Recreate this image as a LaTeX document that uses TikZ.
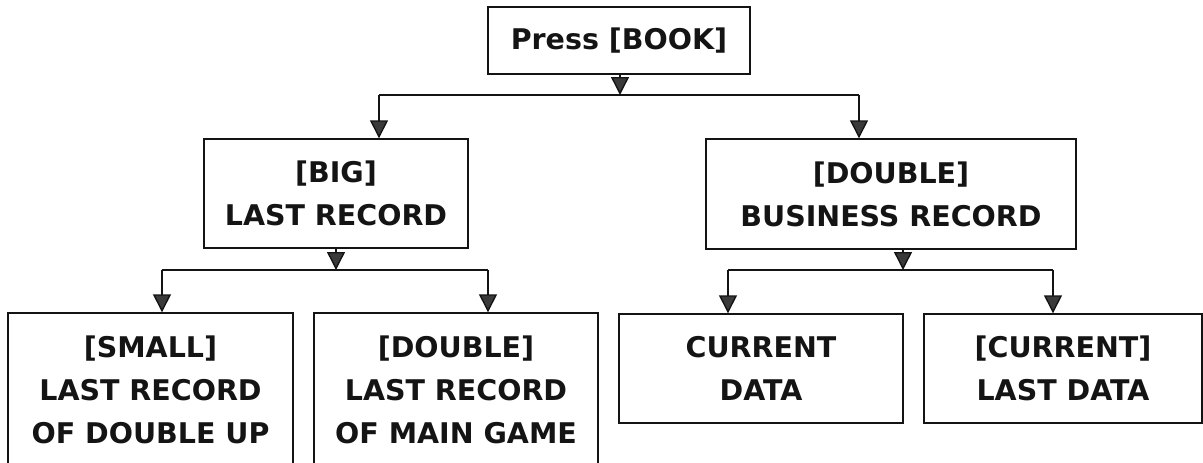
\documentclass[tikz,border=0pt]{standalone}
\usepackage{fontspec}
\setmainfont{DejaVu Sans}
\usetikzlibrary{arrows.meta}
\definecolor{ink}{HTML}{141414}
\definecolor{tipfill}{HTML}{3A3A3A}
\tikzset{
  box/.style={draw=ink, line width=1.4pt, rectangle, inner sep=0pt, align=center,
    text=ink, font=\fontsize{28.5}{43}\selectfont\bfseries},
  link/.style={draw=ink, line width=1.4pt},
  arr/.style={link, -{Triangle[width=18pt,length=18pt,fill=tipfill]}},
}
\begin{document}
\begin{tikzpicture}[x=1pt,y=-1pt]
\useasboundingbox (0,0) rectangle (1203,463);
\clip (0,0) rectangle (1203,463);
\fill[white] (0,0) rectangle (1203,463);
% boxes
\node[box, minimum width=262pt, minimum height=67pt] (top) at (619,40.5) {Press [BOOK]};
\node[box, minimum width=264pt, minimum height=109pt] (big) at (336,193.5) {[BIG]\\LAST RECORD};
\node[box, minimum width=370pt, minimum height=110pt] (dbl) at (891,194) {[DOUBLE]\\BUSINESS RECORD};
\node[box, minimum width=285pt, minimum height=154pt] (s1) at (150.5,390) {[SMALL]\\LAST RECORD\\OF DOUBLE UP};
\node[box, minimum width=284pt, minimum height=154pt] (s2) at (456,390) {[DOUBLE]\\LAST RECORD\\OF MAIN GAME};
\node[box, minimum width=284pt, minimum height=109pt] (c1) at (761,368.5) {CURRENT\\DATA};
\node[box, minimum width=278pt, minimum height=109pt] (c2) at (1063,368.5) {[CURRENT]\\LAST DATA};
% junctions
\coordinate (j0) at (620,95);
\coordinate (j0l) at (379,95);
\coordinate (j0r) at (859,95);
\coordinate (j1) at (336,270);
\coordinate (j1l) at (162,270);
\coordinate (j1r) at (488,270);
\coordinate (j2) at (903,270);
\coordinate (j2l) at (728,270);
\coordinate (j2r) at (1053,270);
% connectors
\draw[arr] (j0 |- top.south) -- (j0);
\draw[link] (j0l) -- (j0r);
\draw[arr] (j0l) -- (j0l |- big.north);
\draw[arr] (j0r) -- (j0r |- dbl.north);
\draw[arr] (j1 |- big.south) -- (j1);
\draw[link] (j1l) -- (j1r);
\draw[arr] (j1l) -- (j1l |- s1.north);
\draw[arr] (j1r) -- (j1r |- s2.north);
\draw[arr] (j2 |- dbl.south) -- (j2);
\draw[link] (j2l) -- (j2r);
\draw[arr] (j2l) -- (j2l |- c1.north);
\draw[arr] (j2r) -- (j2r |- c2.north);
\end{tikzpicture}
\end{document}
